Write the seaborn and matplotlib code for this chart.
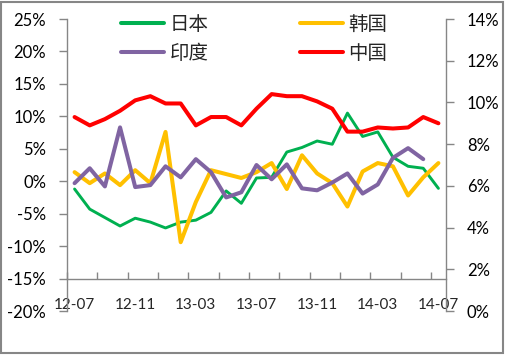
import matplotlib
matplotlib.use("Agg")
import matplotlib.pyplot as plt
import seaborn as sns
import numpy as np
from matplotlib.patches import Rectangle
from matplotlib.ticker import FuncFormatter

# Monthly values, 2012-07 .. 2014-07 (percent)
months = ["12-07", "12-08", "12-09", "12-10", "12-11", "12-12",
          "13-01", "13-02", "13-03", "13-04", "13-05", "13-06",
          "13-07", "13-08", "13-09", "13-10", "13-11", "13-12",
          "14-01", "14-02", "14-03", "14-04", "14-05", "14-06", "14-07"]

japan = [-1.2, -4.3, -5.6, -6.9, -5.7, -6.3, -7.2, -6.3, -6.0, -4.8, -1.5, -3.4,
         0.5, 0.6, 4.5, 5.2, 6.2, 5.7, 10.5, 6.9, 7.6, 3.7, 2.3, 2.0, -1.1]
korea = [1.4, -0.3, 1.2, -0.6, 1.7, -0.3, 7.6, -9.4, -3.2, 1.7, 1.1, 0.5,
         1.4, 2.8, -1.2, 4.0, 1.2, -0.3, -3.9, 1.5, 2.8, 2.3, -2.2, 0.6, 2.8]
india = [-0.3, 2.0, -0.8, 8.3, -0.9, -0.6, 2.3, 0.6, 3.4, 1.4, -2.5, -1.7,
         2.5, 0.3, 2.6, -1.1, -1.4, -0.2, 1.2, -1.9, -0.5, 3.6, 5.1, 3.4]
# China is read on the right-hand axis
china = [9.3, 8.9, 9.2, 9.6, 10.1, 10.3, 9.95, 9.95, 8.9, 9.3, 9.3, 8.9,
         9.7, 10.4, 10.3, 10.3, 10.05, 9.7, 8.6, 8.6, 8.8, 8.75, 8.8, 9.3, 9.0]

sns.set_theme(style="white")
plt.rcParams["font.family"] = ["Lato", "Noto Sans CJK SC", "DejaVu Sans"]

fig = plt.figure(figsize=(5.06, 3.56), dpi=100)
ax = fig.add_axes([0.1324, 0.1264, 0.749, 0.8202])
ax2 = ax.twinx()

x = np.arange(len(months))
sns.lineplot(x=x, y=japan, ax=ax, color="#00B050", lw=2.1, label="日本")
sns.lineplot(x=x, y=korea, ax=ax, color="#FFC000", lw=2.9, label="韩国")
sns.lineplot(x=x[:len(india)], y=india, ax=ax, color="#8064A2", lw=2.9, label="印度")
sns.lineplot(x=x, y=china, ax=ax2, color="#FF0000", lw=2.9, label="中国")

ax.set_xlim(-0.5, len(months) - 0.5)
ax.set_ylim(-20, 25)
ax2.set_ylim(0, 14)
ax.set_yticks(range(-20, 26, 5))
ax2.set_yticks(range(0, 15, 2))
pct = FuncFormatter(lambda v, p: f"{v:.0f}%")
ax.yaxis.set_major_formatter(pct)
ax2.yaxis.set_major_formatter(pct)

ax.set_xticks(x[::4])
ax.set_xticklabels(months[::4], fontweight="bold", fontsize=11, color="black")
ax.set_xticks(np.arange(-0.5, len(months) - 1, 2), minor=True)
ax.tick_params(axis="x", which="major", length=0, pad=14)
ax.tick_params(axis="x", which="minor", direction="in", length=5,
               width=1, color="#868686", bottom=True)
ax.tick_params(axis="y", which="major", direction="out", length=6, width=1,
               color="#868686", pad=9, labelsize=12, left=True, labelcolor="black")
ax2.tick_params(axis="y", which="major", direction="out", length=6, width=1,
                color="#868686", pad=9, labelsize=12, right=True, labelcolor="black")
ax.set_xlabel("")
ax.set_ylabel("")
ax2.set_ylabel("")

gray = "#868686"
ax.spines["bottom"].set_position(("data", -15))
for s in ["top", "right"]:
    ax.spines[s].set_visible(False)
for s in ["top", "left", "bottom"]:
    ax2.spines[s].set_visible(False)
for sp in [ax.spines["left"], ax.spines["bottom"], ax2.spines["right"]]:
    sp.set_color(gray)
    sp.set_linewidth(1)
ax.grid(False)
ax2.grid(False)

h1, l1 = ax.get_legend_handles_labels()
h2, l2 = ax2.get_legend_handles_labels()
if ax2.get_legend():
    ax2.get_legend().remove()
handles = [h1[0], h1[2], h1[1], h2[0]]
labels = [l1[0], l1[2], l1[1], l2[0]]
leg = ax.legend(handles, labels, ncol=2, frameon=False, fontsize=14,
                loc="upper left", bbox_to_anchor=(121 / 506, 1 - 15 / 356),
                bbox_transform=fig.transFigure, borderpad=0, borderaxespad=0,
                handlelength=2.2, handletextpad=0.3, columnspacing=4.7,
                labelspacing=0.55)
for line in leg.get_lines():
    line.set_linewidth(2.9)

fig.add_artist(Rectangle((1 / 506, 3 / 356), 502 / 506, 351 / 356,
                         transform=fig.transFigure, fill=False,
                         edgecolor=gray, lw=1.5))

fig.savefig("out.png", dpi=100)
